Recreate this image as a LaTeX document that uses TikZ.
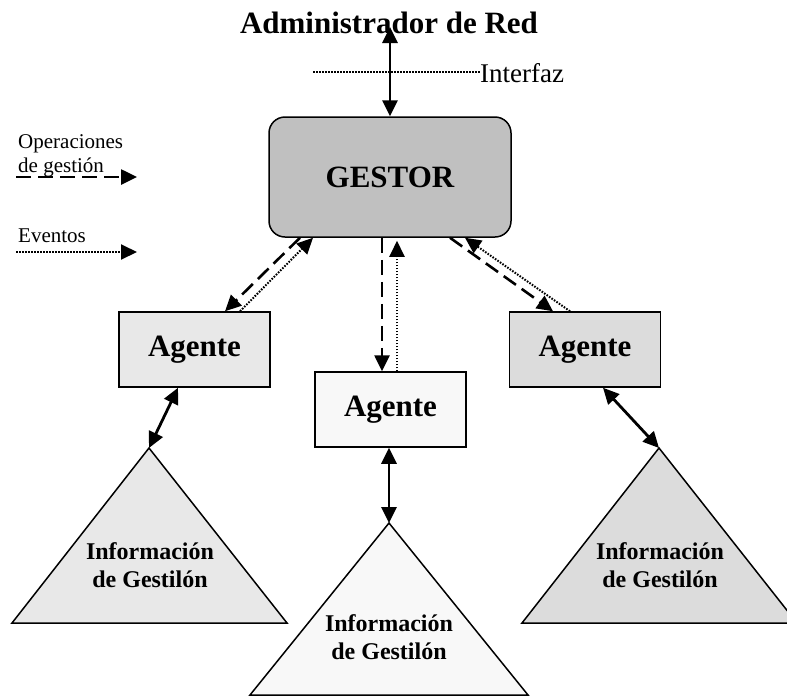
\documentclass[tikz,border=0pt]{standalone}
\usepackage{fontspec}
\setmainfont{Liberation Serif}
\usetikzlibrary{arrows.meta}

\definecolor{gestorfill}{HTML}{C0C0C0}
\definecolor{leftfill}{HTML}{E8E8E8}
\definecolor{midfill}{HTML}{F8F8F8}
\definecolor{rightfill}{HTML}{DCDCDC}

\tikzset{
  tip/.style={-{Triangle[length=16pt,width=15pt]}},
  both/.style={{Triangle[length=16pt,width=15pt]}-{Triangle[length=16pt,width=15pt]}},
  linkline/.style={line width=2.8pt},
  opline/.style={line width=2.6pt, dash pattern=on 15pt off 7pt},
  evline/.style={line width=2pt, dash pattern=on 1.6pt off 1.4pt},
  agentbox/.style={draw, line width=1.5pt, minimum width=151pt, minimum height=75pt,
    inner sep=0pt, font=\fontsize{31}{36}\selectfont\bfseries},
  infotri/.style={draw, line width=1.5pt, line join=miter},
  infotext/.style={font=\fontsize{24}{28}\selectfont\bfseries, align=center, inner sep=0pt},
  legendtext/.style={font=\fontsize{21}{24}\selectfont, anchor=base west, inner sep=0pt},
}

\begin{document}
\begin{tikzpicture}[x=1pt, y=-1pt]
  \useasboundingbox (0,0) rectangle (787,697);

  % title and interface
  \node[font=\fontsize{31}{36}\selectfont\bfseries, anchor=base, inner sep=0pt]
    (title) at (389,33) {Administrador de Red};
  \coordinate (top) at (390,27);
  \node[font=\fontsize{27}{32}\selectfont, anchor=base west, inner sep=0pt]
    (intf) at (480,82) {Interfaz};
  \coordinate (intfL) at (313,72);
  \draw[evline] (intfL) -- (480,72);

  % manager
  \node[draw, line width=1.5pt, fill=gestorfill, rounded corners=16pt,
        minimum width=242pt, minimum height=120pt, inner sep=0pt,
        font=\fontsize{31}{36}\selectfont\bfseries] (g) at (390,177) {GESTOR};
  \draw[linkline, both] (top) -- (g.north);

  % agents
  \node[agentbox, fill=leftfill]  (aL) at (194.5,349.5) {Agente};
  \node[agentbox, fill=midfill]   (aM) at (390.5,409.5) {Agente};
  \node[agentbox, fill=rightfill] (aR) at (585,349.5)   {Agente};

  % management information bases
  \coordinate (tL) at (149,448);
  \coordinate (tM) at (389,523);
  \coordinate (tR) at (659,448);
  \draw[infotri, fill=leftfill]  (tL) -- (12,623) -- (287,623) -- cycle;
  \draw[infotri, fill=midfill]   (tM) -- (250,695) -- (528,695) -- cycle;
  \draw[infotri, fill=rightfill] (tR) -- (522,623) -- (797,623) -- cycle;
  \node[infotext] (iL) at (150,565) {Información\\de Gestilón};
  \node[infotext] (iM) at (389,637) {Información\\de Gestilón};
  \node[infotext] (iR) at (660,565) {Información\\de Gestilón};

  % operations (dashed) and events (dotted)
  \draw[opline, tip] ([xshift=-90pt]g.south) -- ([xshift=30.5pt]aL.north);
  \draw[evline, tip] ([xshift=45.5pt]aL.north) -- ([xshift=-77pt]g.south);
  \draw[opline, tip] ([xshift=-8pt]g.south) -- ([xshift=-8.5pt]aM.north);
  \draw[evline, tip] ([xshift=6.5pt]aM.north) -- ([xshift=7pt,yshift=-3pt]g.south);
  \draw[opline, tip] ([xshift=60pt]g.south) -- ([xshift=-32pt]aR.north);
  \draw[evline, tip] ([xshift=-15pt]aR.north) -- ([xshift=75pt]g.south);

  % agent to information links
  \draw[linkline, both] ([xshift=-16.5pt]aL.south) -- (tL);
  \draw[linkline, both] ([xshift=-1.5pt]aM.south) -- (tM);
  \draw[linkline, both] ([xshift=18pt]aR.south) -- (tR);

  % legend
  \node[legendtext] (lop1) at (18,148) {Operaciones};
  \node[legendtext] (lop2) at (18,172) {de gestión};
  \coordinate (lopA) at (16,177);
  \coordinate (lopB) at (137,177);
  \draw[opline, tip] (lopA) -- (lopB);
  \node[legendtext] (lev) at (18,242) {Eventos};
  \coordinate (levA) at (16,252);
  \coordinate (levB) at (137,252);
  \draw[evline, tip] (levA) -- (levB);
\end{tikzpicture}
\end{document}
